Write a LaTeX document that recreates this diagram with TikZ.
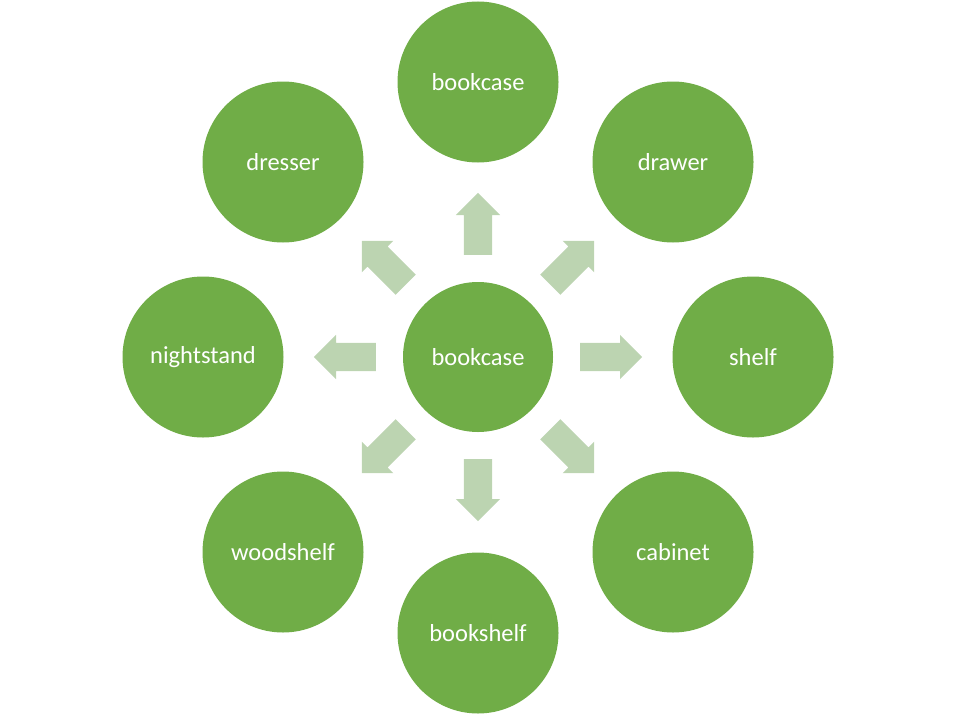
\documentclass[tikz,border=0pt]{standalone}
\usepackage{fontspec}
\setmainfont{Carlito}
\usetikzlibrary{shapes.arrows, calc}
\definecolor{leafgreen}{HTML}{70AD47}
\definecolor{palegreen}{HTML}{BCD4B1}
\tikzset{
    hub/.style={circle, fill=leafgreen, text=white, minimum size=150pt, inner sep=0pt, font=\fontsize{24.5}{28}\selectfont},
    leaf/.style={hub, minimum size=161pt},
    blockarrow/.style={single arrow, fill=palegreen, inner xsep=0pt, inner ysep=14pt, minimum height=62pt, single arrow head extend=8pt, anchor=tail}
}
\begin{document}
\begin{tikzpicture}[x=1pt, y=-1pt]
        \useasboundingbox (0, 0) rectangle (957, 717);
        \node[hub] (center) at (478, 357) {bookcase};
        \node[leaf] (top) at (478, 82) {bookcase};
        \node[leaf] (dresser) at (283, 162) {dresser};
        \node[leaf] (drawer) at (673, 162) {drawer};
        \node[leaf] (nightstand) at (203, 357) {nightstand};
        \node[leaf] (shelf) at (753, 357) {shelf};
        \node[leaf] (woodshelf) at (283, 552) {woodshelf};
        \node[leaf] (cabinet) at (673, 552) {cabinet};
        \node[leaf] (bookshelf) at (478, 633) {bookshelf};
        % arrows pointing out of the hub
        \foreach \ang/\name in {90/a1, 45/a2, 0/a3, -45/a4, -90/a5, -135/a6, 180/a7, 135/a8}
            \node[blockarrow, rotate=-\ang] (\name) at ($(center) + (\ang:102)$) {};
    \end{tikzpicture}
\end{document}
